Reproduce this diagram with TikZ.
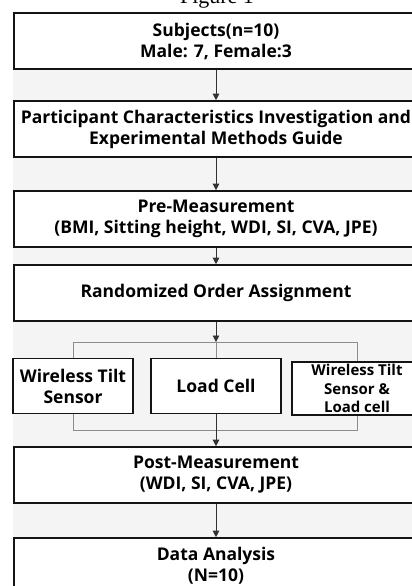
\documentclass[tikz,border=0pt]{standalone}
\usepackage{fontspec}
\setmainfont{Open Sans}
\newfontfamily\capfont{Liberation Serif}
\usetikzlibrary{arrows.meta}

\definecolor{panelgray}{RGB}{244,244,244}
\definecolor{boxline}{RGB}{20,20,20}
\definecolor{flowline}{RGB}{50,50,50}
\definecolor{branchline}{RGB}{140,140,140}

\tikzset{
  stepbox/.style={draw=boxline, line width=1.6pt, fill=white, align=center,
    font=\bfseries\fontsize{17.5}{21}\selectfont, inner sep=0pt},
  widebox/.style={stepbox, minimum width=404, minimum height=56},
  smallbox/.style={stepbox, minimum height=55},
  flow/.style={draw=flowline, line width=0.8pt,
    -{Triangle[width=6.5pt,length=6.5pt]}},
  branch/.style={draw=branchline, line width=0.8pt}
}

\begin{document}
\begin{tikzpicture}[x=1pt,y=-1pt]
\useasboundingbox (0,0) rectangle (412,586);
\clip (0,0) rectangle (412,586);

% background panel behind the flow chart
\fill[panelgray] (13,12) rectangle (420,590);

% caption, cut at the upper edge
\node[font=\capfont\fontsize{22}{24}\selectfont, anchor=base] (caption) at (217,4) {Figure 1};

% main steps
\node[widebox] (subj) at (216,41) {Subjects(n=10)\\Male: 7, Female:3};
\node[widebox] (guide) at (216,129) {Participant Characteristics Investigation and\\Experimental Methods Guide};
\node[widebox] (pre) at (216,219) {Pre-Measurement\\(BMI, Sitting height, WDI, SI, CVA, JPE)};
\node[widebox] (rand) at (216,293) {Randomized Order Assignment};

% three conditions
\node[smallbox, minimum width=120] (tilt) at (73,386) {Wireless Tilt\\Sensor};
\node[smallbox, minimum width=130] (load) at (216,386) {Load Cell};
\node[smallbox, minimum width=130, minimum height=53,
      font=\bfseries\fontsize{15}{18.5}\selectfont] (both) at (357,388.5) {Wireless Tilt\\Sensor \&\\Load cell};

\node[widebox] (post) at (216,475) {Post-Measurement\\(WDI, SI, CVA, JPE)};
\node[widebox] (data) at (216,566) {Data Analysis\\(N=10)};

% split and merge points
\coordinate (split) at (216,342);
\coordinate (merge) at (216,430);

% connectors
\draw[flow] (subj) -- (guide);
\draw[flow] (guide) -- (pre);
\draw[flow] (pre) -- (rand);
\draw[flow] (rand) -- (split);
\draw[branch] (tilt.north |- split) -- (both.north |- split);
\draw[branch] (tilt.north |- split) -- (tilt.north);
\draw[branch] (split) -- (load.north);
\draw[branch] (both.north |- split) -- (both.north);
\draw[branch] (tilt.south) -- (tilt.south |- merge) -- (both.south |- merge) -- (both.south);
\draw[flowline, line width=0.8pt] (load.south) -- (merge);
\draw[flow] (merge) -- (post);
\draw[flow] (post) -- (data);
\end{tikzpicture}
\end{document}
